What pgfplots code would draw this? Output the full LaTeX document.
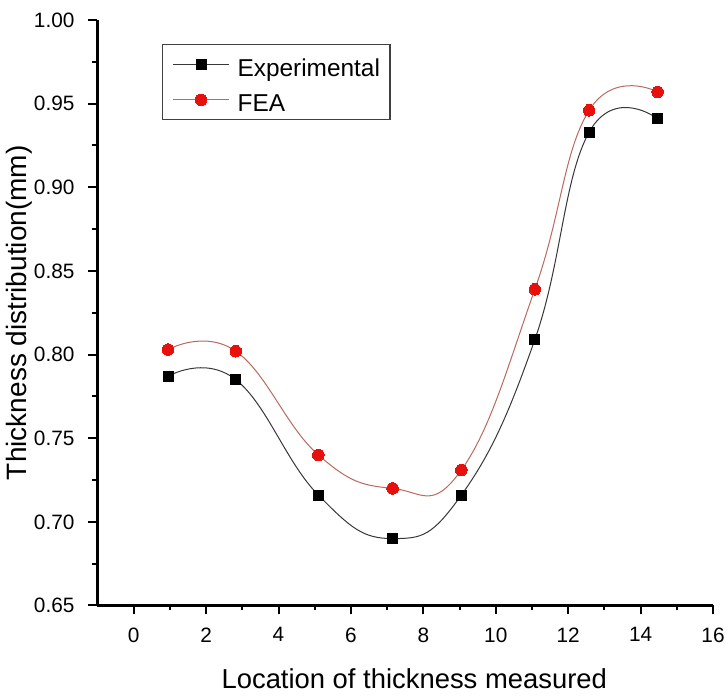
\documentclass[border=0pt]{standalone}
\usepackage{pgfplots}
\pgfplotsset{compat=1.18}
\usepackage{fontspec}
\setmainfont{Liberation Sans}
\definecolor{feared}{RGB}{232,16,12}
\definecolor{fealine}{RGB}{185,105,95}
\definecolor{expline}{RGB}{55,55,55}
\begin{document}
\begin{tikzpicture}
\useasboundingbox (-48.75pt,-44.75pt) rectangle (314.75pt,302.75pt);
\begin{axis}[
  scale only axis,
  at={(0,0)}, anchor=south west,
  width=307.75pt, height=292.75pt,
  xmin=-1, xmax=16, ymin=0.65, ymax=1.00,
  axis lines=left,
  axis line style={-, line width=1.2pt},
  xtick={0,2,...,16},
  ytick={0.65,0.70,...,1.001},
  minor x tick num=1,
  minor y tick num=1,
  tick align=outside,
  major tick length=4.5pt,
  minor tick length=2.5pt,
  every tick/.style={black, line width=1pt},
  /pgf/number format/assume math mode=true,
  yticklabel style={xshift=-3.5pt, /pgf/number format/.cd, fixed, fixed zerofill, precision=2},
  xticklabel style={yshift=-3pt, /pgf/number format/.cd, fixed},
  tick label style={font=\fontsize{10.4}{12.5}\selectfont},
  every axis x label/.style={at={(axis description cs:0.5,0)}, anchor=base, yshift=-41.25pt, xshift=4.5pt, font=\fontsize{13.7}{16}\selectfont},
  every axis y label/.style={at={(axis description cs:0,0.5)}, xshift=-39pt, rotate=90, anchor=center, font=\fontsize{14}{18}\selectfont},
  xlabel={Location of thickness measured},
  ylabel={Thickness distribution(mm)},
  legend style={at={(0,1)}, anchor=north west, xshift=32.25pt, yshift=-12.15pt,
    draw=black!75, line width=0.6pt,
    font=\fontsize{12.2}{14}\selectfont,
    inner xsep=5pt, inner ysep=3.25pt, row sep=4pt,
    nodes={inner sep=0pt, text height=12.5pt, text depth=1pt},
    /tikz/every odd column/.append style={column sep=4pt}},
  legend cell align=left,
  legend image code/.code={
    \draw[mark repeat=2,mark phase=2] plot coordinates {(0pt,0pt) (14pt,0pt) (28pt,0pt)};
  },
]
\addplot[expline, line width=0.5pt, smooth, tension=0.75, mark=square*,
  mark options={solid, fill=black, draw=black, mark size=2.5pt, line width=0pt}]
  coordinates {(0.95,0.787) (2.82,0.785) (5.10,0.716) (7.15,0.690) (9.05,0.716) (11.08,0.809) (12.58,0.933) (14.47,0.941)};
\addlegendentry{Experimental}
\addplot[fealine, line width=0.5pt, smooth, tension=0.75, mark=*,
  mark options={solid, fill=feared, draw=feared, mark size=2.9pt, line width=0pt}]
  coordinates {(0.95,0.803) (2.82,0.802) (5.10,0.740) (7.15,0.720) (9.05,0.731) (11.08,0.839) (12.58,0.946) (14.47,0.957)};
\addlegendentry{FEA}
\end{axis}
\end{tikzpicture}
\end{document}
